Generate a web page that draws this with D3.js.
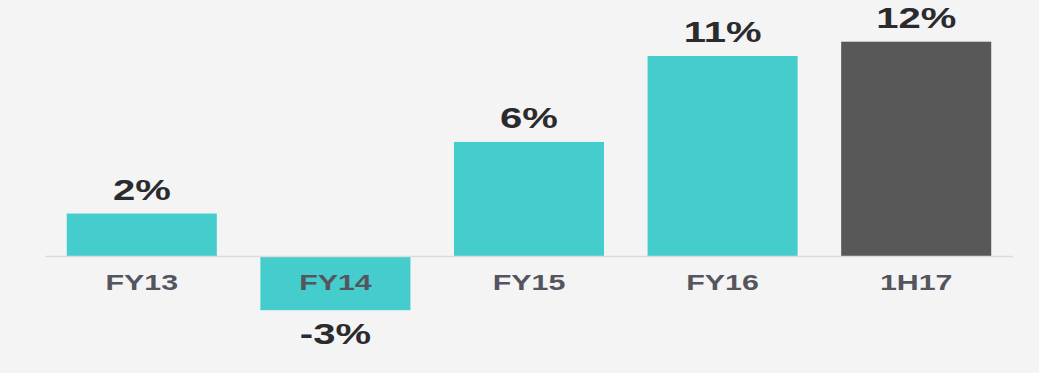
<!DOCTYPE html>
<html>
<head>
<meta charset="utf-8">
<script src="https://cdn.jsdelivr.net/npm/d3@7"></script>
<style>
  html, body { margin: 0; padding: 0; background: #f4f4f4; }
  svg { display: block; }
  text { font-family: "Liberation Sans", Arial, sans-serif; font-weight: bold; }
</style>
</head>
<body>
<div id="chart"></div>
<script>
// data
var categories = ['FY13', 'FY14', 'FY15', 'FY16', '1H17'];
var values = [2.4, -3.0, 6.4, 11.2, 12.0];
var valueLabels = ['2%', '-3%', '6%', '11%', '12%'];
var barColors = ['#44cdcc', '#44cdcc', '#44cdcc', '#44cdcc', '#585858'];

var width = 1039, height = 373;

var svg = d3.select('#chart').append('svg')
    .attr('width', width)
    .attr('height', height);

svg.append('rect')
    .attr('width', width)
    .attr('height', height)
    .attr('fill', '#f4f4f4');

var x = d3.scaleBand()
    .domain(categories)
    .range([45, 1013])
    .paddingInner(0.225)
    .paddingOuter(0.1125);

var y = d3.scaleLinear()
    .domain([0, 12])
    .range([256.5, 41.7]);

var stretch = 1.38; // text in the picture is stretched horizontally

// bars
svg.append('g').selectAll('rect')
    .data(values)
    .enter()
    .append('rect')
    .attr('x', function (d, i) { return x(categories[i]); })
    .attr('y', function (d) { return Math.min(y(d), y(0)); })
    .attr('width', x.bandwidth())
    .attr('height', function (d) { return Math.abs(y(d) - y(0)); })
    .attr('fill', function (d, i) { return barColors[i]; });

// baseline
svg.append('line')
    .attr('x1', x.range()[0])
    .attr('x2', x.range()[1])
    .attr('y1', y(0))
    .attr('y2', y(0))
    .attr('stroke', '#dcdcdc')
    .attr('stroke-width', 1.5);

// category labels
svg.append('g').selectAll('g')
    .data(categories)
    .enter()
    .append('g')
    .attr('transform', function (d) {
        return 'translate(' + (x(d) + x.bandwidth() / 2) + ',' + (y(0) + 33.5) + ')';
    })
    .append('text')
    .attr('transform', 'scale(' + stretch + ',1)')
    .attr('text-anchor', 'middle')
    .attr('font-size', 22)
    .attr('fill', '#55555f')
    .text(function (d) { return d; });

// value labels
svg.append('g').selectAll('g')
    .data(values)
    .enter()
    .append('g')
    .attr('transform', function (d, i) {
        var cx = x(categories[i]) + x.bandwidth() / 2;
        var ty = d >= 0 ? y(d) - 14 : y(d) + 34;
        return 'translate(' + cx + ',' + ty + ')';
    })
    .append('text')
    .attr('transform', 'scale(' + stretch + ',1)')
    .attr('text-anchor', 'middle')
    .attr('font-size', 29)
    .attr('fill', '#2b2b2e')
    .text(function (d, i) { return valueLabels[i]; });
</script>
</body>
</html>
